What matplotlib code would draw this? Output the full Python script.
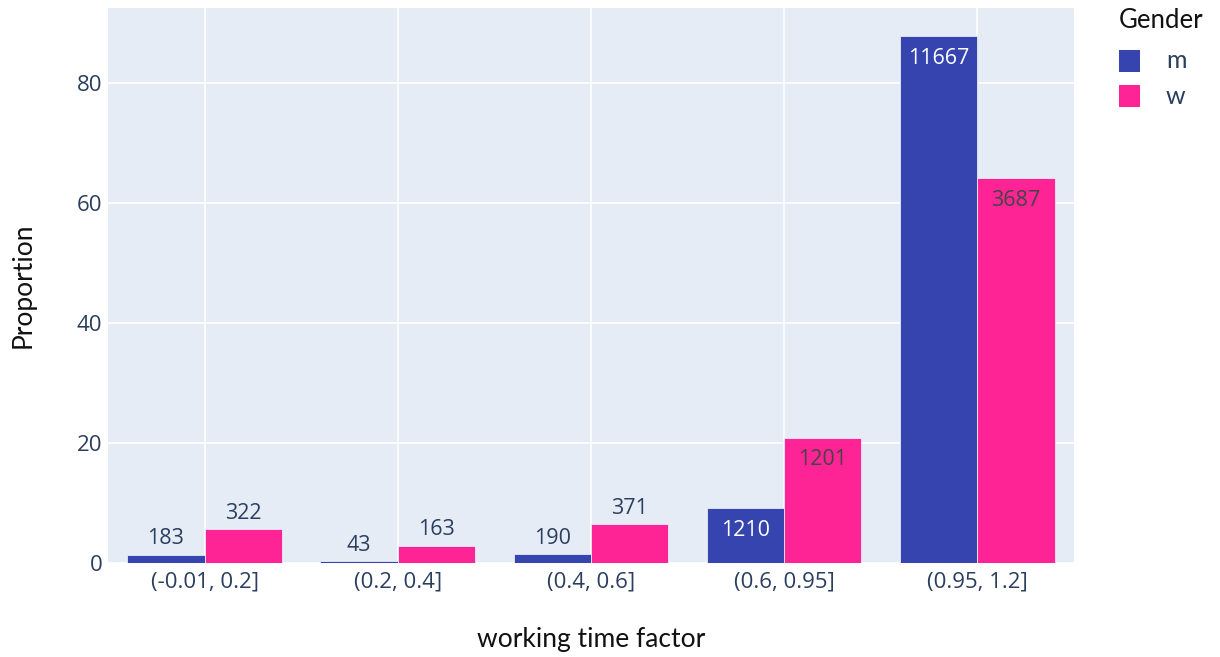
import numpy as np
import matplotlib.pyplot as plt
from matplotlib.patches import Rectangle

# bins of working time factor
categories = ["(-0.01, 0.2]", "(0.2, 0.4]", "(0.4, 0.6]", "(0.6, 0.95]", "(0.95, 1.2]"]

# proportion (%) per gender
m_prop = [1.38, 0.32, 1.43, 9.10, 87.77]
w_prop = [5.61, 2.84, 6.46, 20.91, 64.19]

# counts printed on the bars
m_count = [183, 43, 190, 1210, 11667]
w_count = [322, 163, 371, 1201, 3687]

M_COLOR = "#3544AE"
W_COLOR = "#FF2495"
TICK_COLOR = "#2A3F5F"
BG = "#E5ECF6"


def label_bars(ax, bars, counts, inside_color):
    for bar, n in zip(bars, counts):
        x = bar.get_x() + bar.get_width() / 2
        h = bar.get_height()
        if h > 8:
            ax.annotate(str(n), (x, h), xytext=(0, -8.5), textcoords="offset points",
                        ha="center", va="top", fontsize=15.5, color=inside_color,
                        family="Open Sans")
        else:
            ax.annotate(str(n), (x, h), xytext=(0, 4), textcoords="offset points",
                        ha="center", va="bottom", fontsize=15.5, color=TICK_COLOR,
                        family="Open Sans")


def main():
    fig = plt.figure(figsize=(12.2, 6.57), dpi=100)
    ax = fig.add_axes([0.0885, 0.1431, 0.7918, 0.8447])
    ax.set_facecolor(BG)

    x = np.arange(len(categories))
    w = 0.4
    bars_m = ax.bar(x - w / 2, m_prop, w, color=M_COLOR, edgecolor="#E5ECF6", linewidth=0.6, zorder=3, label="m")
    bars_w = ax.bar(x + w / 2, w_prop, w, color=W_COLOR, edgecolor="#E5ECF6", linewidth=0.6, zorder=3, label="w")

    label_bars(ax, bars_m, m_count, "white")
    label_bars(ax, bars_w, w_count, "#444444")

    ax.set_xlim(-0.5, len(categories) - 0.5)
    ax.set_ylim(0, 92.5)
    ax.set_yticks([0, 20, 40, 60, 80])
    ax.set_xticks(x)
    ax.set_xticklabels(categories)
    ax.grid(True, color="white", linewidth=1.2, zorder=0)
    ax.set_axisbelow(True)
    for s in ax.spines.values():
        s.set_visible(False)
    ax.tick_params(length=0, labelsize=16, colors=TICK_COLOR)
    ax.tick_params(axis="y", pad=4)
    ax.tick_params(axis="x", pad=6)
    for lab in ax.get_xticklabels() + ax.get_yticklabels():
        lab.set_family("Open Sans")

    ax.set_xlabel("working time factor", fontsize=19, family="Lato", labelpad=25, color="#111111")
    ax.set_ylabel("Proportion", fontsize=19, family="Lato", labelpad=30, color="#111111")

    # legend on the right, plotly style
    fig.text(1119 / 1220, 1 - 21 / 657, "Gender", fontsize=18.5, family="Lato", va="center", ha="left", color="#111111")
    for i, (name, col) in enumerate([("m", M_COLOR), ("w", W_COLOR)]):
        yc = 1 - (61 + 35 * i) / 657
        fig.patches.append(Rectangle((1119 / 1220, yc - 11 / 657), 21 / 1220, 22 / 657,
                                     transform=fig.transFigure, facecolor=col, edgecolor="none"))
        fig.text(1166 / 1220, yc, name, fontsize=18, family="Lato", va="center", ha="left", color=TICK_COLOR)

    fig.savefig("out.png", dpi=100)
    plt.close(fig)


if __name__ == "__main__":
    main()
